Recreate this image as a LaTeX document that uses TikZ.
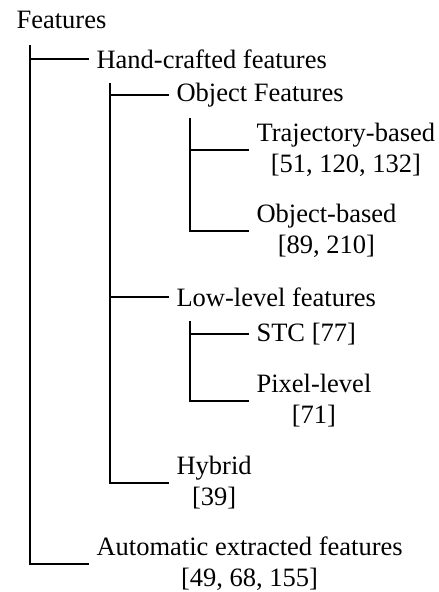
\documentclass[tikz,border=0pt]{standalone}
\usepackage{fontspec}
\setmainfont{Liberation Serif}
\begin{document}
\begin{tikzpicture}[x=1pt,y=1pt,line width=1.1pt,cat/.style={anchor=west,align=center,inner xsep=7pt,inner ysep=2pt,font=\fontsize{26.5}{31}\selectfont},root/.style={cat,inner xsep=0pt}]
\def\xa{30};
\def\xb{110};
\def\xc{190};
\def\dl{59};

\useasboundingbox (0,0) rectangle (439,-592);

\node[root] (F) at (16,-20) {Features};

\coordinate (Fs) at (\xa,-45);
\node[cat] (H) at (\xa+\dl,-59) {Hand-crafted features};
\draw (Fs) |- (H.west);
\node[cat] (A) at (\xa+\dl,-564) {Automatic extracted features\\{}[49, 68, 155]};
\draw (Fs) |- (A.west);

\coordinate (Hs) at (\xb,-83);
\node[cat] (O) at (\xb+\dl,-95) {Object Features};
\draw (Hs) |- (O.west);
\node[cat] (L) at (\xb+\dl,-297) {Low-level features};
\draw (Hs) |- (L.west);
\node[cat] (Y) at (\xb+\dl,-483) {Hybrid\\{}[39]};
\draw (Hs) |- (Y.west);

\coordinate (Os) at (\xc,-118);
\node[cat] (T) at (\xc+\dl,-150) {Trajectory-based\\{}[51, 120, 132]};
\draw (Os) |- (T.west);
\node[cat] (B) at (\xc+\dl,-231) {Object-based\\{}[89, 210]};
\draw (Os) |- (B.west);

\coordinate (Ls) at (\xc,-321);
\node[cat] (S) at (\xc+\dl,-334) {STC [77]};
\draw (Ls) |- (S.west);
\node[cat] (P) at (\xc+\dl,-401) {Pixel-level\\{}[71]};
\draw (Ls) |- (P.west);
\end{tikzpicture}
\end{document}
